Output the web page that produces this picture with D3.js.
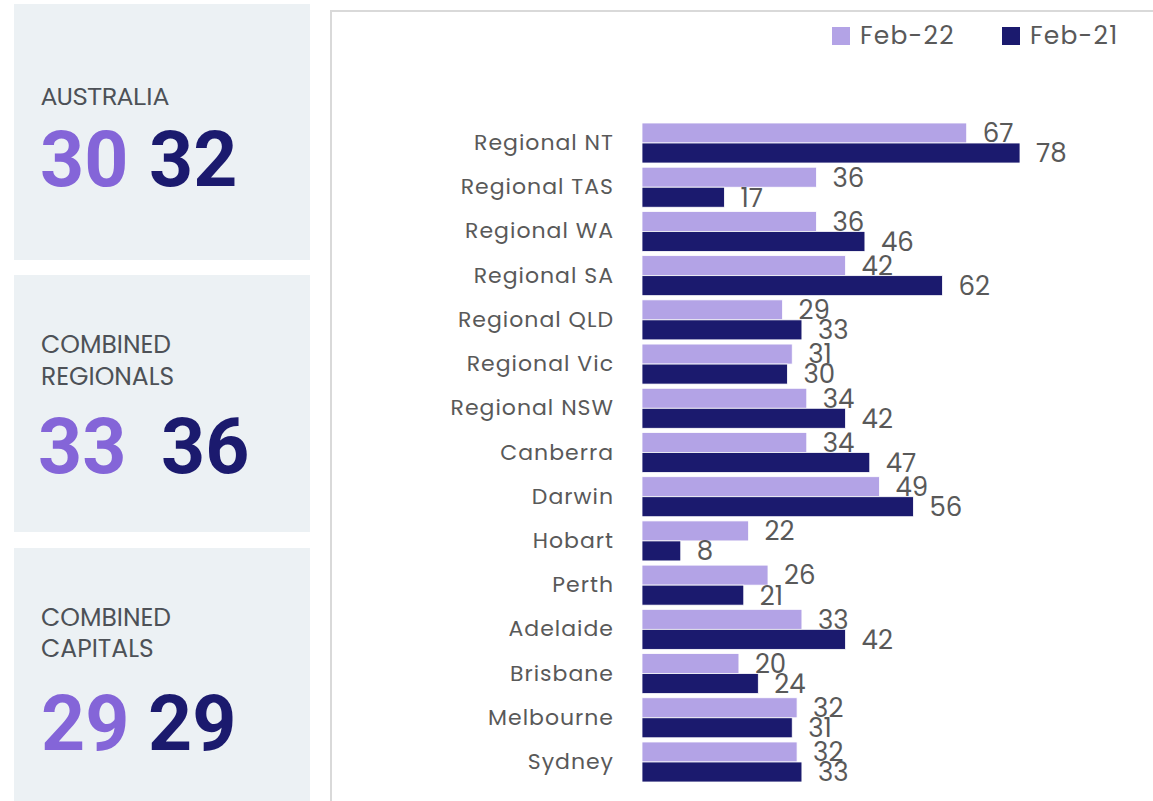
<!DOCTYPE html>
<html>
<head>
<meta charset="utf-8">
<script src="https://cdn.jsdelivr.net/npm/d3@7"></script>
<style>
  body { margin: 0; background: #fff; }
  svg { display: block; }
</style>
</head>
<body>
<div id="chart"></div>
<script>
// categories, top to bottom
let categories = ["Regional NT", "Regional TAS", "Regional WA", "Regional SA", "Regional QLD",
  "Regional Vic", "Regional NSW", "Canberra", "Darwin", "Hobart", "Perth", "Adelaide",
  "Brisbane", "Melbourne", "Sydney"];
let feb22 = [67, 36, 36, 42, 29, 31, 34, 34, 49, 22, 26, 33, 20, 32, 32];
let feb21 = [78, 17, 46, 62, 33, 30, 42, 47, 56, 8, 21, 42, 24, 31, 33];
let seriesNames = ["Feb-22", "Feb-21"];

// summary cards
let cardTitles = [["AUSTRALIA"], ["COMBINED", "REGIONALS"], ["COMBINED", "CAPITALS"]];
let cardFeb22 = [30, 33, 29];
let cardFeb21 = [32, 36, 29];

let lightColor = "#b3a3e6", darkColor = "#1b1a6e";
let numLight = "#8465d8", numDark = "#1b1a6e";
let textColor = "#595959";
let font = "Poppins, 'Open Sans', sans-serif";

let W = 1153, H = 801;
let svg = d3.select("#chart").append("svg").attr("width", W).attr("height", H);

// ---- cards on the left
let cardTops = [4, 275, 548], cardBottoms = [260, 532, 801];
let titleY = [[105], [353, 385], [626, 657]];
let numY = [186, 473, 750];
let numX = [[40, 149], [38, 161], [41, 148]];

cardTitles.forEach((t, i) => {
  svg.append("rect")
    .attr("x", 14).attr("y", cardTops[i])
    .attr("width", 296).attr("height", cardBottoms[i] - cardTops[i])
    .attr("fill", "#ecf1f4");
  t.forEach((line, j) => {
    svg.append("text")
      .attr("x", 41).attr("y", titleY[i][j])
      .style("font-family", i == 0 ? "Roboto, sans-serif" : font)
      .style("font-size", i == 0 ? "24.5px" : "25px")
      .attr("fill", "#4d5157")
      .text(line);
  });
  svg.append("text")
    .attr("x", numX[i][0]).attr("y", numY[i])
    .style("font-family", "Roboto, sans-serif").style("font-weight", "bold")
    .style("font-size", "77px").attr("fill", numLight)
    .text(cardFeb22[i]);
  svg.append("text")
    .attr("x", numX[i][1]).attr("y", numY[i])
    .style("font-family", "Roboto, sans-serif").style("font-weight", "bold")
    .style("font-size", "77px").attr("fill", numDark)
    .text(cardFeb21[i]);
});

// ---- chart panel border
svg.append("path")
  .attr("d", "M331," + H + " V11 H" + W)
  .attr("fill", "none").attr("stroke", "#d9d9d9").attr("stroke-width", 2);

// ---- scales
let x = d3.scaleLinear().domain([0, 78]).range([642, 1020]);
let y = d3.scaleBand().domain(categories).range([120.9, 784.1]).paddingInner(0.095).paddingOuter(0.0475);
let sub = d3.scaleBand().domain(seriesNames).range([0, y.bandwidth()]);

let series = [
  { name: "Feb-22", values: feb22, color: lightColor },
  { name: "Feb-21", values: feb21, color: darkColor }
];

series.forEach(s => {
  let g = svg.append("g");
  g.selectAll("rect").data(categories).join("rect")
    .attr("x", x(0))
    .attr("y", (d, i) => y(d) + sub(s.name))
    .attr("width", (d, i) => x(s.values[i]) - x(0))
    .attr("height", sub.bandwidth())
    .attr("fill", s.color)
    .attr("stroke", "#fff").attr("stroke-width", 0.8);

  g.selectAll("text").data(categories).join("text")
    .attr("x", (d, i) => x(s.values[i]) + 16)
    .attr("y", (d, i) => y(d) + sub(s.name) + sub.bandwidth() / 2)
    .attr("dy", "0.36em")
    .style("font-family", font).style("font-size", "26px")
    .attr("fill", textColor)
    .text((d, i) => s.values[i]);
});

// category axis labels
let yAxis = svg.append("g")
  .attr("transform", "translate(" + x(0) + ",0)")
  .call(d3.axisLeft(y).tickSize(0).tickPadding(28));
yAxis.select(".domain").remove();
yAxis.selectAll("text")
  .style("font-family", font).style("font-size", "22px")
  .style("letter-spacing", "1px")
  .attr("fill", textColor);

// ---- legend
let legendX = [832, 1002];
series.forEach((s, i) => {
  svg.append("rect")
    .attr("x", legendX[i]).attr("y", 27)
    .attr("width", 18).attr("height", 18)
    .attr("fill", s.color);
  svg.append("text")
    .attr("x", legendX[i] + 28).attr("y", 35)
    .attr("dy", "0.36em")
    .style("font-family", font).style("font-size", "25px")
    .style("letter-spacing", "1.2px")
    .attr("fill", textColor)
    .text(s.name);
});
</script>
</body>
</html>
